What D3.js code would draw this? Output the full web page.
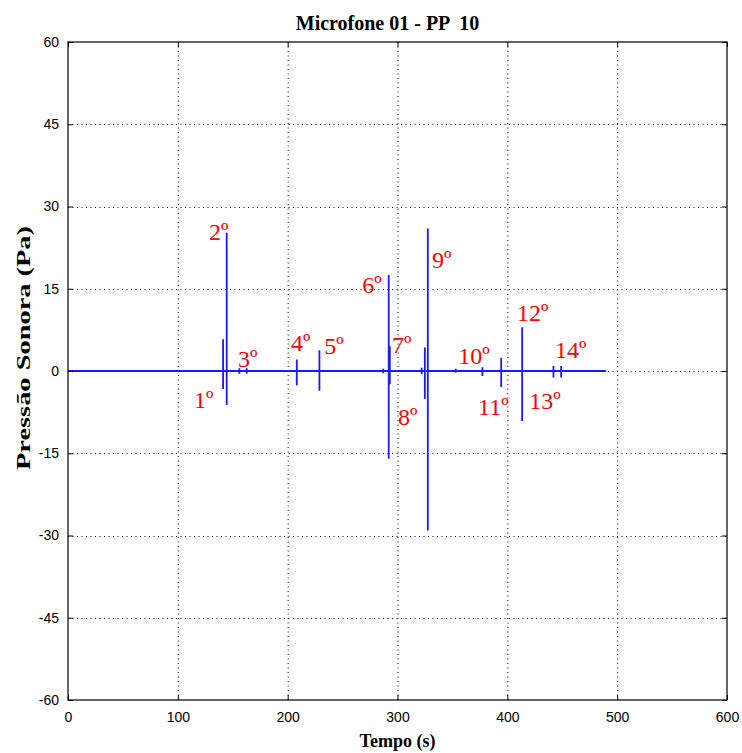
<!DOCTYPE html>
<html>
<head>
<meta charset="utf-8">
<script src="https://cdn.jsdelivr.net/npm/d3@7"></script>
<style>
  body { margin: 0; background: #fff; }
  svg { display: block; }
</style>
</head>
<body>
<svg id="chart" width="742" height="753"></svg>
<script>
// Recording span (s)
const recordStart = 0;
const recordEnd = 489.7;

// Impulse events: time (s), positive peak and negative peak (Pa)
const eventTimes = [141.2, 144.5, 156, 162.7, 208.3, 228.9, 287, 292, 293, 322, 324.9, 327.6, 353, 377.3, 394.4, 413.5, 442, 449];
const eventMax   = [5.8, 25.2, 0.5, 0.5, 2.1, 3.8, 0.4, 17.5, 4.5, 0.6, 4.3, 26.0, 0.4, 0.7, 2.4, 8.0, 0.9, 0.9];
const eventMin   = [-3.3, -6.2, -0.5, -0.5, -2.6, -3.6, -0.4, -16.0, -2.4, -0.6, -5.1, -29.1, -0.3, -0.9, -2.9, -9.1, -1.2, -1.2];

// Shot annotations, anchored in data units (s, Pa)
const shotLabels = ["1º", "2º", "3º", "4º", "5º", "6º", "7º", "8º", "9º", "10º", "11º", "12º", "13º", "14º"];
const shotLabelT = [114.8, 128.4, 154.8, 203.1, 233.2, 267.8, 295.1, 300.5, 331.5, 355.2, 373.4, 408.9, 419.9, 443.5];
const shotLabelP = [-6.7, 23.9, 0.7, 3.6, 3.1, 14.2, 3.3, -9.8, 18.8, 1.3, -8.0, 9.1, -6.9, 2.4];

// Axis ticks
const xTicks = [0, 100, 200, 300, 400, 500, 600];
const yTicks = [-60, -45, -30, -15, 0, 15, 30, 45, 60];

const title = "Microfone 01 - PP  10";
const xTitle = "Tempo (s)";
const yTitle = "Pressão Sonora (Pa)";

const margin = { left: 68, right: 15, top: 42, bottom: 53 };
const width = 742, height = 753;
const svg = d3.select("#chart");

const x = d3.scaleLinear().domain([0, 600]).range([margin.left, width - margin.right]);
const y = d3.scaleLinear().domain([-60, 60]).range([height - margin.bottom, margin.top]);

// Build the waveform: flat baseline with vertical excursions at each event
const signal = [[recordStart, 0]];
eventTimes.forEach((t, i) => {
  signal.push([t, 0], [t, eventMax[i]], [t, eventMin[i]], [t, 0]);
});
signal.push([recordEnd, 0]);

// Grid
const grid = svg.append("g").attr("stroke", "#000").attr("stroke-width", 1)
  .attr("stroke-dasharray", "1,3.5");
xTicks.slice(1, -1).forEach(v => {
  grid.append("line").attr("x1", x(v) + 0.5).attr("x2", x(v) + 0.5)
    .attr("y1", y(60)).attr("y2", y(-60));
});
yTicks.slice(1, -1).forEach(v => {
  grid.append("line").attr("y1", Math.round(y(v)) + 0.5).attr("y2", Math.round(y(v)) + 0.5)
    .attr("x1", x(0)).attr("x2", x(600));
});

// Signal
svg.append("path")
  .datum(signal)
  .attr("fill", "none")
  .attr("stroke", "#1a1aff")
  .attr("stroke-width", 1.8)
  .attr("d", d3.line().x(d => x(d[0])).y(d => y(d[1])));

// Axes (ticks pointing inward, mirrored on the opposite sides)
const plain = d => String(d);
const xAxisB = d3.axisBottom(x).tickValues(xTicks).tickSize(-5).tickPadding(12).tickFormat(plain);
const xAxisT = d3.axisTop(x).tickValues(xTicks).tickSize(-5).tickFormat("");
const yAxisL = d3.axisLeft(y).tickValues(yTicks).tickSize(-5).tickPadding(9).tickFormat(plain);
const yAxisR = d3.axisRight(y).tickValues(yTicks).tickSize(-5).tickFormat("");

function styleAxis(g) {
  g.select(".domain").remove();
  g.selectAll("line").attr("stroke", "#000");
  g.selectAll("text").attr("fill", "#000")
    .style("font-family", "'Liberation Sans', Arial, sans-serif")
    .style("font-size", "14px");
}
svg.append("g").attr("transform", `translate(0,${y(-60)})`).call(xAxisB).call(styleAxis);
svg.append("g").attr("transform", `translate(0,${y(60)})`).call(xAxisT).call(styleAxis);
svg.append("g").attr("transform", `translate(${x(0)},0)`).call(yAxisL).call(styleAxis);
svg.append("g").attr("transform", `translate(${x(600)},0)`).call(yAxisR).call(styleAxis);

// Frame
svg.append("rect")
  .attr("x", x(0)).attr("y", y(60))
  .attr("width", x(600) - x(0)).attr("height", y(-60) - y(60))
  .attr("fill", "none").attr("stroke", "#000").attr("stroke-width", 1.2);

// Shot annotations
svg.append("g").selectAll("text")
  .data(shotLabels)
  .join("text")
  .attr("x", (d, i) => x(shotLabelT[i]))
  .attr("y", (d, i) => y(shotLabelP[i]))
  .attr("fill", "#ff0000")
  .style("font-family", "'Liberation Serif', 'Times New Roman', serif")
  .style("font-size", "24px")
  .text(d => d);

// Titles
const serif = "'Liberation Serif', 'Times New Roman', serif";
svg.append("text")
  .attr("x", (x(0) + x(600)) / 2 - 10).attr("y", 30)
  .attr("text-anchor", "middle")
  .style("white-space", "pre")
  .attr("xml:space", "preserve")
  .style("font-family", serif).style("font-weight", "bold").style("font-size", "20px")
  .text(title);
svg.append("text")
  .attr("x", (x(0) + x(600)) / 2).attr("y", 747)
  .attr("text-anchor", "middle")
  .style("font-family", serif).style("font-weight", "bold").style("font-size", "18px")
  .text(xTitle);
svg.append("text")
  .attr("transform", `translate(30,348) rotate(-90)`)
  .attr("text-anchor", "middle")
  .attr("textLength", 244)
  .attr("lengthAdjust", "spacingAndGlyphs")
  .style("font-family", serif).style("font-weight", "bold").style("font-size", "19px")
  .text(yTitle);
</script>
</body>
</html>
